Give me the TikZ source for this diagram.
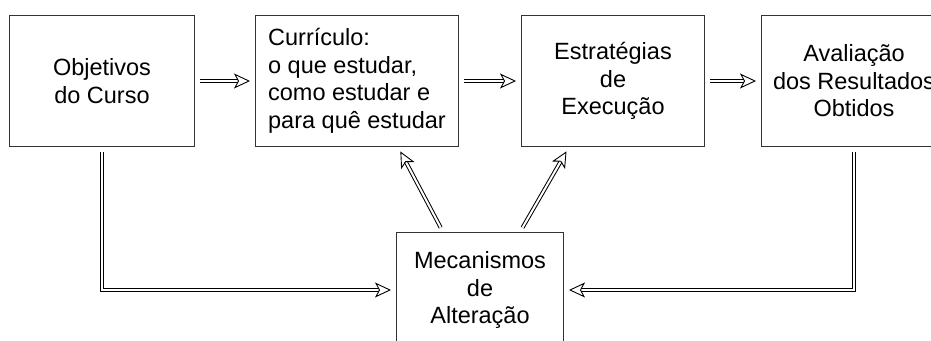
\documentclass[tikz,border=0pt]{standalone}
\usepackage{fontspec}
\setmainfont{Liberation Sans}
\usetikzlibrary{arrows.meta}

\begin{document}
\begin{tikzpicture}[x=1pt, y=-1pt,
    box/.style={draw=black!80, line width=1pt, inner sep=0pt, align=center, font=\fontsize{23.5}{27.5}\selectfont},
    flow/.style={line width=1pt, double, double distance=2pt, shorten <=5pt, shorten >=5pt,
        -{Stealth[open, length=16pt, width=15pt, inset=4pt, line width=0.9pt]}}]
    \useasboundingbox (0,0) rectangle (931,340);

    % Draw nodes
    \node[box, minimum width=185pt, minimum height=131pt] (objetivos) at (102,81) {Objetivos\\do Curso};
    \node[box, minimum width=203pt, minimum height=131pt, align=left] (curriculo) at (357,81) {Currículo:\\o que estudar,\\como estudar e\\para quê estudar};
    \node[box, minimum width=183pt, minimum height=131pt] (estrategias) at (613,81) {Estratégias\\de\\Execução};
    \node[box, minimum width=185pt, minimum height=131pt] (avaliacao) at (854,81) {Avaliação\\dos Resultados\\Obtidos};
    \node[box, minimum width=167pt, minimum height=115pt] (mecanismos) at (480,290) {Mecanismos\\de\\Alteração};

    % Draw edges
    \draw[flow] (objetivos) -- (curriculo);
    \draw[flow] (curriculo) -- (estrategias);
    \draw[flow] (estrategias) -- (avaliacao);
    \draw[flow] (objetivos.south) |- (mecanismos.west);
    \draw[flow] (avaliacao.south) |- (mecanismos.east);
    \draw[flow] ([xshift=-37pt]mecanismos.north) -- ([xshift=41pt]curriculo.south);
    \draw[flow] ([xshift=40pt]mecanismos.north) -- ([xshift=-44pt]estrategias.south);
\end{tikzpicture}
\end{document}
